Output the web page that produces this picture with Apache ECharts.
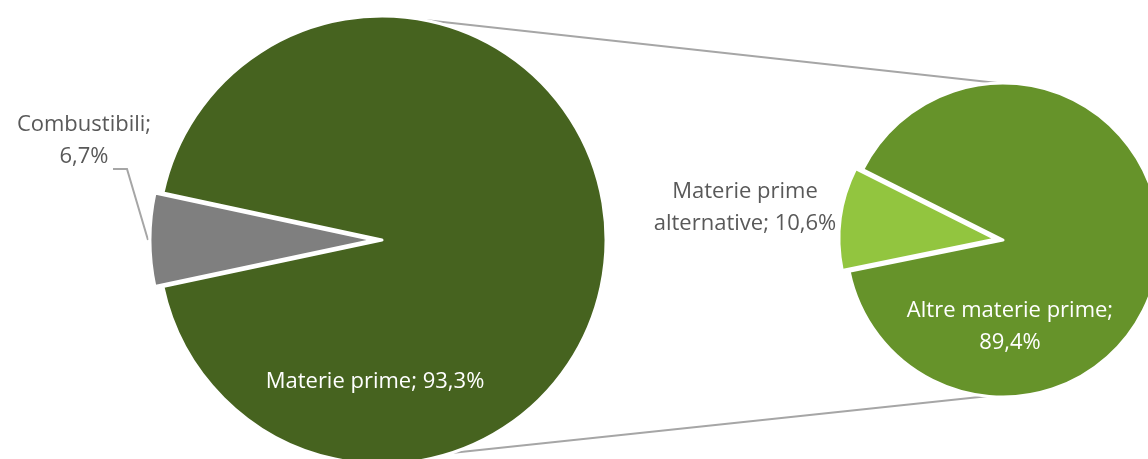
<!DOCTYPE html>
<html>
<head>
<meta charset="utf-8">
<script src="https://cdn.jsdelivr.net/npm/echarts@6/dist/echarts.min.js"></script>
<style>
html,body{margin:0;padding:0;background:#fff;}
#chart{width:1148px;height:459px;}
</style>
</head>
<body>
<div id="chart"></div>
<script>
// ---- data ----
const leftNames = ['Combustibili', 'Materie prime'];
const leftValues = [6.7, 93.3];
const leftSep = ['\n', ' '];
const rightNames = ['Materie prime\nalternative', 'Altre materie prime'];
const rightValues = [10.6, 89.4];
const rightSep = [' ', '\n'];

// ---- layout / style ----
const LC = [382, 240], LR = 224;
const RC = [1003, 240], RR = 157;
const LSTART = 192, RSTART = 191.5;
const FONT = 'Open Sans';
const FS = 22;
const colLeft = ['#7F7F7F', '#46631F'];
const colRight = ['#92C53F', '#66932A'];
const LOFF = 8, ROFF = 7;

function fmt(v) { return v.toFixed(1).replace('.', ',') + '%'; }
function pt(c, r, deg) {
  const a = deg * Math.PI / 180;
  return [c[0] + r * Math.cos(a), c[1] - r * Math.sin(a)];
}
function explodedCenter(c, start, vals, off) {
  const sum = vals.reduce((a, b) => a + b, 0);
  const mid = start - 360 * vals[0] / sum / 2;
  return pt(c, off, mid);
}

const chart = echarts.init(document.getElementById('chart'), null, {renderer: 'canvas'});

const HIDDEN = {itemStyle: {color: 'rgba(0,0,0,0)', borderWidth: 0}, label: {show: false}};

function mkData(names, vals, cols, visibleIdx) {
  return names.map((n, i) => i === visibleIdx
    ? {name: n, value: vals[i], itemStyle: {color: cols[i]}, label: {color: i === 0 ? '#595959' : '#ffffff'}}
    : Object.assign({name: n, value: vals[i]}, HIDDEN));
}

const LCX = explodedCenter(LC, LSTART, leftValues, LOFF);
const RCX = explodedCenter(RC, RSTART, rightValues, ROFF);

const t1a = pt(LC, LR, 79), t1b = pt(RC, RR, 92);
const b1a = pt(LC, LR, -72), b1b = pt(RC, RR, -96);
const edge = [LC[0] - LR - LOFF + 2, LC[1]];
const leader = [[edge[0] - 4, edge[1]], [edge[0] - 25, edge[1] - 71], [edge[0] - 39, edge[1] - 71]];

function pieBase(center, radius, start, sep, layoutFn, data) {
  return {
    type: 'pie',
    center: center,
    radius: [0, radius],
    startAngle: start,
    clockwise: true,
    silent: true,
    avoidLabelOverlap: false,
    emphasis: {disabled: true},
    itemStyle: {borderColor: '#ffffff', borderWidth: 3},
    label: {
      position: 'inside',
      fontFamily: FONT, fontSize: FS, lineHeight: 32,
      formatter: p => p.name + ';' + sep[p.dataIndex] + fmt(p.value)
    },
    labelLine: {show: false},
    labelLayout: layoutFn,
    data: data
  };
}

chart.setOption({
  animation: false,
  backgroundColor: '#ffffff',
  textStyle: {fontFamily: FONT},
  graphic: [
    {type: 'line', z: 0, shape: {x1: t1a[0], y1: t1a[1], x2: t1b[0], y2: t1b[1]}, style: {stroke: '#A6A6A6', lineWidth: 2}},
    {type: 'line', z: 0, shape: {x1: b1a[0], y1: b1a[1], x2: b1b[0], y2: b1b[1]}, style: {stroke: '#A6A6A6', lineWidth: 2}},
    {type: 'polyline', z: 0, shape: {points: leader}, style: {stroke: '#A6A6A6', lineWidth: 2, fill: null}}
  ],
  series: [
    pieBase(LC, LR, LSTART, leftSep,
      () => ({x: LC[0] - 7, y: LC[1] + 142, align: 'center', verticalAlign: 'middle'}),
      mkData(leftNames, leftValues, colLeft, 1)),
    pieBase(LCX, LR, LSTART, leftSep,
      () => ({x: edge[0] - 68, y: edge[1] - 99, align: 'center', verticalAlign: 'middle'}),
      mkData(leftNames, leftValues, colLeft, 0)),
    pieBase(RC, RR, RSTART, rightSep,
      () => ({x: RC[0] + 7, y: RC[1] + 87, align: 'center', verticalAlign: 'middle'}),
      mkData(rightNames, rightValues, colRight, 1)),
    pieBase(RCX, RR, RSTART, rightSep,
      () => ({x: RC[0] - 258, y: RC[1] - 32, align: 'center', verticalAlign: 'middle'}),
      mkData(rightNames, rightValues, colRight, 0))
  ]
});
</script>
</body>
</html>
